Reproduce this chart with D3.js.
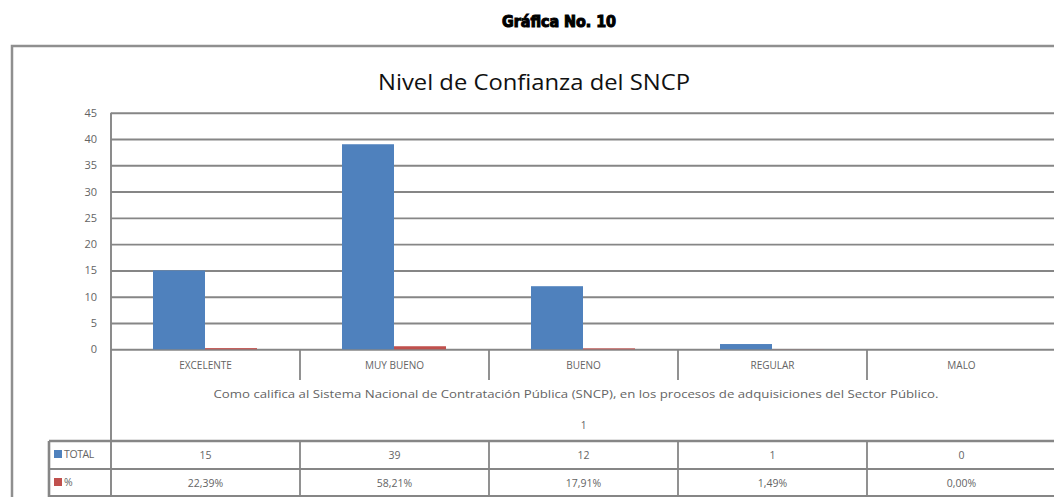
<!DOCTYPE html>
<html><head><meta charset="utf-8">
<script src="https://cdn.jsdelivr.net/npm/d3@7"></script>
<style>
html,body{margin:0;padding:0;background:#fff;overflow:hidden}
svg{display:block}
text{font-family:"Open Sans",sans-serif}
</style></head>
<body>
<svg id="c" width="1054" height="497"></svg>
<script>
const categories = ["EXCELENTE","MUY BUENO","BUENO","REGULAR","MALO"];
const totalValues = [15,39,12,1,0];
const pctValues = [22.39,58.21,17.91,1.49,0.00];
const pctLabels = ["22,39%","58,21%","17,91%","1,49%","0,00%"];
const seriesNames = ["TOTAL","%"];
const yTicks = [0,5,10,15,20,25,30,35,40,45];
const pageTitle = "Gráfica No. 10";
const chartTitle = "Nivel de Confianza del SNCP";
const axisTitle = "Como califica al Sistema Nacional de Contratación Pública (SNCP), en los procesos de adquisiciones del Sector Público.";
const axisSub = "1";

const colors = {"TOTAL":"#4F81BD","%":"#C0504D"};
const gridCol = "#868686", textCol = "#646464";

const svg = d3.select("#c");
const L = 111, R = 1056, T = 112.7, B = 349.3;
const x = d3.scaleBand().domain(categories).range([L, R]);
const bw = x.bandwidth();
const xs = d3.scaleBand().domain(seriesNames).range([42, 42 + 104]);
const y = d3.scaleLinear().domain([0, 45]).range([B, T]);

// page title
svg.append("text").attr("x", 559).attr("y", 27).attr("text-anchor","middle")
  .attr("font-weight","900").attr("font-size",15)
  .attr("textLength",114).attr("lengthAdjust","spacingAndGlyphs")
  .attr("stroke","#000").attr("stroke-width",1)
  .style("font-family","'DejaVu Sans Condensed','DejaVu Sans'").text(pageTitle);

// outer frame
svg.append("rect").attr("x",12).attr("y",46).attr("width",1100).attr("height",500)
  .attr("fill","none").attr("stroke","#8f8f8f").attr("stroke-width",2.5);

// chart title
svg.append("text").attr("x",534).attr("y",90).attr("text-anchor","middle")
  .attr("font-size",21).attr("fill","#111").attr("textLength",312).attr("lengthAdjust","spacingAndGlyphs")
  .text(chartTitle);

// gridlines & y axis
const yAxis = d3.axisLeft(y).tickValues(yTicks).tickSize(-(R - L)).tickPadding(14);
const gy = svg.append("g").attr("transform",`translate(${L},0)`).call(yAxis);
gy.select(".domain").remove();
gy.selectAll(".tick line").attr("stroke",gridCol).attr("stroke-width",1.9);
gy.selectAll(".tick text").attr("fill",textCol).attr("font-size",11).style("font-family","'Open Sans'");

// plot left border
svg.append("line").attr("x1",L).attr("x2",L).attr("y1",T).attr("y2",497)
  .attr("stroke",gridCol).attr("stroke-width",1.9);

// bars
const rows = categories.map((c,i)=>({cat:c, vals:[{s:"TOTAL",v:totalValues[i]},{s:"%",v:pctValues[i]/100}]}));
const g = svg.append("g");
rows.forEach(r=>{
  g.selectAll(null).data(r.vals).enter().append("rect")
    .attr("x", d=>x(r.cat)+xs(d.s))
    .attr("width", xs.bandwidth())
    .attr("y", d=>y(d.v))
    .attr("height", d=>B - y(d.v))
    .attr("fill", d=>colors[d.s]);
});

// category dividers
const divs = categories.slice(1).map(c=>x(c));
svg.selectAll(".dv").data(divs).enter().append("line")
  .attr("x1",d=>d).attr("x2",d=>d).attr("y1",B).attr("y2",380)
  .attr("stroke",gridCol).attr("stroke-width",1.8);

// category labels
svg.selectAll(".cl").data(categories).enter().append("text")
  .attr("x",d=>x(d)+bw/2).attr("y",369).attr("text-anchor","middle")
  .attr("font-size",10).attr("fill",textCol).text(d=>d);

// axis title
svg.append("text").attr("x",576).attr("y",398).attr("text-anchor","middle")
  .attr("font-size",10).attr("fill",textCol).attr("textLength",725).attr("lengthAdjust","spacingAndGlyphs")
  .text(axisTitle);
svg.append("text").attr("x",(L+R)/2).attr("y",429).attr("text-anchor","middle")
  .attr("font-size",10).attr("fill",textCol).text(axisSub);

// data table
const tL = 49, tTop = 441, tMid = 469, tBot = 497;
[[tTop,2.6],[tMid,2],[tBot-1,2]].forEach(([yy,w])=>{
  svg.append("line").attr("x1",tL).attr("x2",R).attr("y1",yy).attr("y2",yy)
    .attr("stroke",gridCol).attr("stroke-width",w);
});
svg.append("line").attr("x1",tL).attr("x2",tL).attr("y1",tTop).attr("y2",497)
  .attr("stroke",gridCol).attr("stroke-width",2.6);
svg.selectAll(".tdv").data(divs).enter().append("line")
  .attr("x1",d=>d).attr("x2",d=>d).attr("y1",tTop).attr("y2",497)
  .attr("stroke",gridCol).attr("stroke-width",1.8);

// legend keys and names
const rowY = {"TOTAL":455,"%":483};
seriesNames.forEach(s=>{
  svg.append("rect").attr("x",54).attr("y",rowY[s]-5).attr("width",8).attr("height",8).attr("fill",colors[s]);
  svg.append("text").attr("x",64).attr("y",rowY[s]+3).attr("font-size",10.5).attr("fill",textCol)
    .attr("letter-spacing",-0.4).text(s);
});
svg.selectAll(".tv").data(categories).enter().append("text")
  .attr("x",d=>x(d)+bw/2).attr("y",rowY["TOTAL"]+4).attr("text-anchor","middle")
  .attr("font-size",10.5).attr("fill",textCol).text((d,i)=>totalValues[i]);
svg.selectAll(".pv").data(categories).enter().append("text")
  .attr("x",d=>x(d)+bw/2).attr("y",rowY["%"]+4).attr("text-anchor","middle")
  .attr("font-size",10.5).attr("fill",textCol).text((d,i)=>pctLabels[i]);
</script>
</body></html>
